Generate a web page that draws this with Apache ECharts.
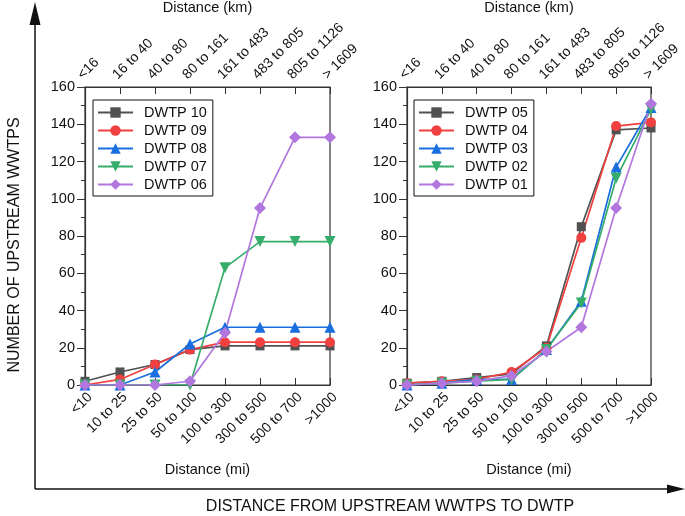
<!DOCTYPE html>
<html>
<head>
<meta charset="utf-8">
<script src="https://cdn.jsdelivr.net/npm/echarts@6/dist/echarts.min.js"></script>
<style>html,body{margin:0;padding:0;background:#fff;}#c{width:685px;height:516px;}</style>
</head>
<body>
<div id="c"></div>
<script>
var miLabels = ['<10', '10 to 25', '25 to 50', '50 to 100', '100 to 300', '300 to 500', '500 to 700', '>1000'];
var kmLabels = ['<16', '16 to 40', '40 to 80', '80 to 161', '161 to 483', '483 to 805', '805 to 1126', '> 1609'];
var yTicks = [0, 20, 40, 60, 80, 100, 120, 140, 160];

// Left panel
var dwtp10 = [2, 7, 11, 19, 21, 21, 21, 21];
var dwtp09 = [0, 3, 11, 19, 23, 23, 23, 23];
var dwtp08 = [0, 0, 7, 22, 31, 31, 31, 31];
var dwtp07 = [0, 0, 0, 0, 63, 77, 77, 77];
var dwtp06 = [0, 0, 0, 2, 28, 95, 133, 133];
// Right panel
var dwtp05 = [1, 2, 4, 6, 21, 85, 137, 138];
var dwtp04 = [1, 2, 3, 7, 20, 79, 139, 141];
var dwtp03 = [0, 1, 3, 3, 19, 45, 117, 149];
var dwtp02 = [0, 1, 2, 3, 19, 44, 111, 148];
var dwtp01 = [0, 1, 2, 5, 18, 31, 95, 151];

var leftNames = ['DWTP 10', 'DWTP 09', 'DWTP 08', 'DWTP 07', 'DWTP 06'];
var rightNames = ['DWTP 05', 'DWTP 04', 'DWTP 03', 'DWTP 02', 'DWTP 01'];
var leftData = [dwtp10, dwtp09, dwtp08, dwtp07, dwtp06];
var rightData = [dwtp05, dwtp04, dwtp03, dwtp02, dwtp01];

var colors = ['#515151', '#F14040', '#1A6FDF', '#37AD6B', '#B177DE'];
var symbols = ['rect', 'circle', 'triangle', 'triangle', 'diamond'];
var symRot = [0, 0, 0, 180, 0];
var symSize = [9, 10, 11, 11, 12];
var FONT = 'Liberation Sans, Arial, sans-serif';

var chart = echarts.init(document.getElementById('c'));

function bottomX(gi) {
  return {
    type: 'category', gridIndex: gi, position: 'bottom', data: miLabels, boundaryGap: false,
    name: 'Distance (mi)', nameLocation: 'middle', nameGap: 77, nameMoveOverlap: false,
    nameTextStyle: {fontFamily: FONT, fontSize: 14.5, color: '#111'},
    axisLine: {onZero: false, lineStyle: {color: '#333', width: 1.2}},
    axisTick: {inside: true, length: 7, lineStyle: {color: '#333'}},
    axisLabel: {rotate: 45, fontFamily: FONT, fontSize: 14, color: '#111', margin: 5, interval: 0, verticalAlign: 'top'},
    splitLine: {show: false}
  };
}
function topX(gi) {
  return {
    type: 'category', gridIndex: gi, position: 'top', data: kmLabels, boundaryGap: false,
    name: 'Distance (km)', nameLocation: 'middle', nameGap: 72, nameMoveOverlap: false,
    nameTextStyle: {fontFamily: FONT, fontSize: 14.5, color: '#111'},
    axisLine: {onZero: false, lineStyle: {color: '#333', width: 1.2}},
    axisTick: {inside: true, length: 7, lineStyle: {color: '#333'}},
    axisLabel: {rotate: -45, fontFamily: FONT, fontSize: 14, color: '#111', margin: 5, interval: 0, verticalAlign: 'bottom'},
    splitLine: {show: false}
  };
}
function leftY(gi) {
  return {
    type: 'value', gridIndex: gi, min: yTicks[0], max: yTicks[yTicks.length - 1], interval: 20,
    axisLine: {show: true, lineStyle: {color: '#333', width: 1.2}},
    axisTick: {show: true, length: 8, lineStyle: {color: '#333'}},
    minorTick: {show: true, splitNumber: 2, length: 4, lineStyle: {color: '#333'}},
    axisLabel: {fontFamily: FONT, fontSize: 14.5, color: '#111', margin: 10},
    splitLine: {show: false}
  };
}

var series = [];
function addSeries(names, data, xi, yi) {
  for (var i = 0; i < names.length; i++) {
    series.push({
      type: 'line', name: names[i], data: data[i], xAxisIndex: xi, yAxisIndex: yi,
      symbol: symbols[i], symbolRotate: symRot[i], symbolSize: symSize[i], showAllSymbol: true,
      itemStyle: {color: colors[i]}, lineStyle: {color: colors[i], width: 1.7},
      animation: false
    });
  }
}
addSeries(leftNames, leftData, 0, 0);
addSeries(rightNames, rightData, 2, 1);

function legend(left, names) {
  return {
    data: names.map(function (n) { return {name: n}; }), orient: 'vertical', left: left, top: 100,
    borderColor: '#111', borderWidth: 1, padding: [5, 6, 4, 4], itemWidth: 35, itemHeight: 13, itemGap: 3,
    textStyle: {fontFamily: FONT, fontSize: 14.5, color: '#111', padding: [0, 0, 0, 6]},
    selectedMode: false
  };
}

function gridOpt(left, width) {
  return {left: left, top: 87, width: width, height: 298, containLabel: false, outerBoundsMode: 'none',
    show: true, borderColor: '#333', borderWidth: 1.2, backgroundColor: 'transparent'};
}

chart.setOption({
  animation: false,
  grid: [gridOpt(85, 245), gridOpt(407, 244)],
  xAxis: [bottomX(0), topX(0), bottomX(1), topX(1)],
  yAxis: [leftY(0), leftY(1)],
  legend: [legend(93, leftNames), legend(414, rightNames)],
  series: series,
  graphic: [
    {type: 'line', shape: {x1: 35, y1: 489, x2: 35, y2: 20}, style: {stroke: '#111', lineWidth: 1.5}},
    {type: 'polygon', shape: {points: [[35, 2], [29.5, 25], [40.5, 25]]}, style: {fill: '#111'}},
    {type: 'line', shape: {x1: 35, y1: 489, x2: 670, y2: 489}, style: {stroke: '#111', lineWidth: 1.5}},
    {type: 'polygon', shape: {points: [[685, 489], [667, 484.5], [667, 493.5]]}, style: {fill: '#111'}},
    {type: 'text', x: 15, y: 245, rotation: Math.PI / 2,
      style: {text: 'NUMBER OF UPSTREAM WWTPS', font: '16px ' + FONT, fill: '#111', textAlign: 'center', textVerticalAlign: 'middle'}},
    {type: 'text', x: 390, y: 507,
      style: {text: 'DISTANCE FROM UPSTREAM WWTPS TO DWTP', font: '16px ' + FONT, fill: '#111', textAlign: 'center', textVerticalAlign: 'middle'}}
  ]
});
</script>
</body>
</html>
